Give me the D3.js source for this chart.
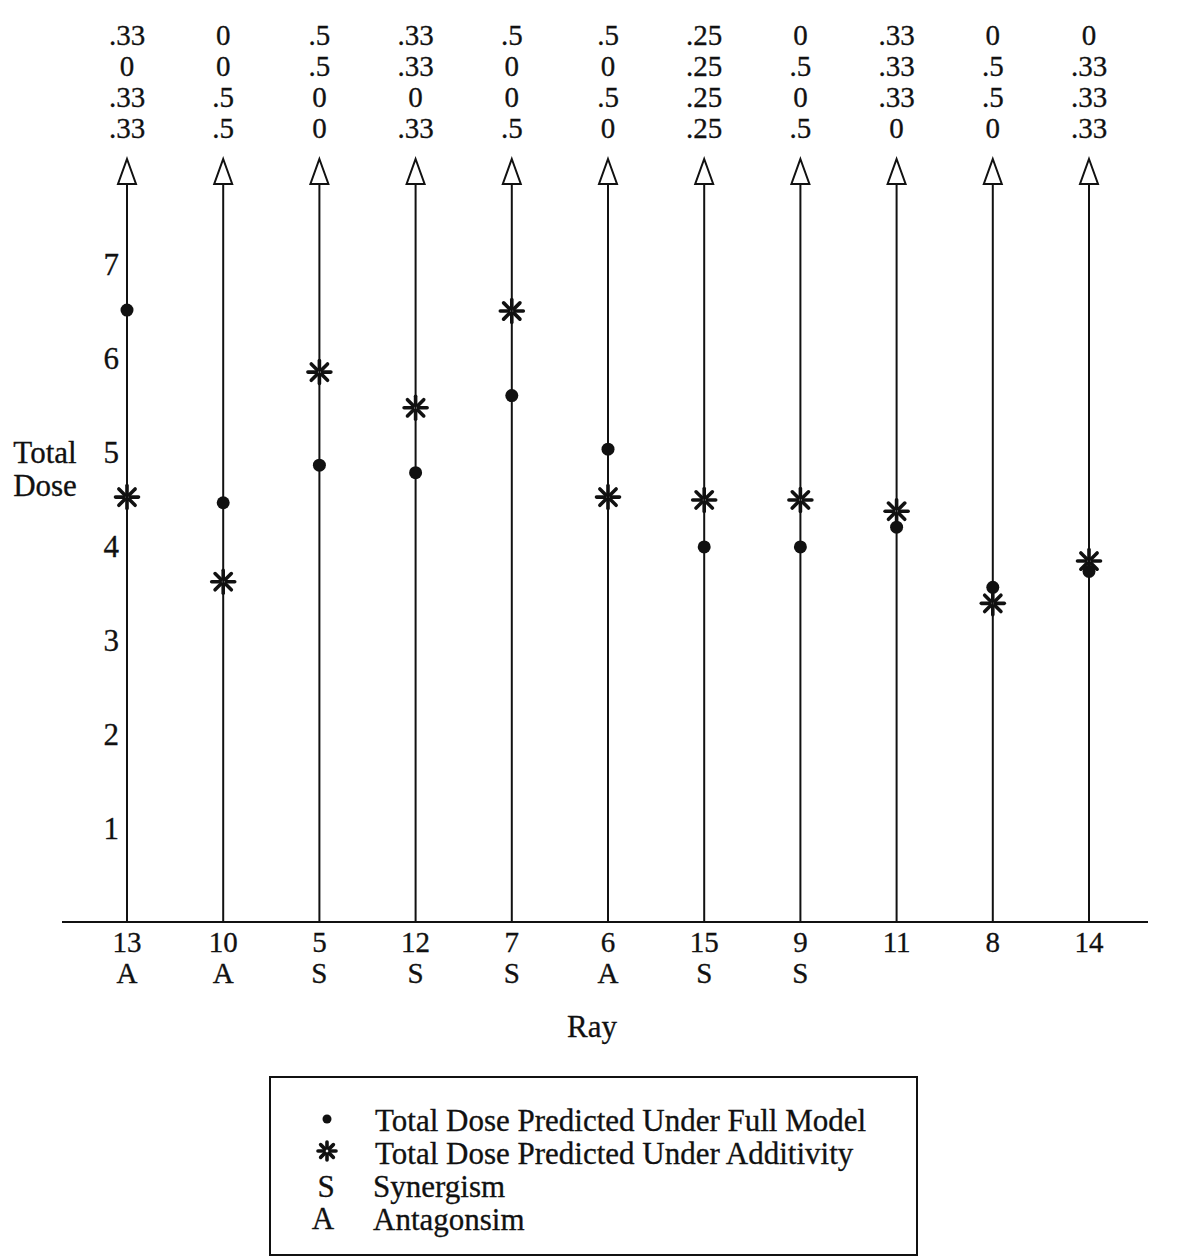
<!DOCTYPE html>
<html>
<head>
<meta charset="utf-8">
<script src="https://cdn.jsdelivr.net/npm/d3@7"></script>
<style>
  html, body { margin: 0; padding: 0; background: #fff; }
  svg text { font-family: "Liberation Serif", "Times New Roman", serif; fill: #111; stroke: #111; stroke-width: 0.3; }
</style>
</head>
<body>
<svg id="chart" width="1177" height="1260"></svg>
<script>
// Rays, in plotted order, and their classification
const rays = ["13", "10", "5", "12", "7", "6", "15", "9", "11", "8", "14"];
const effect = ["A", "A", "S", "S", "S", "A", "S", "S", "", "", ""];

// Mixing proportions of the four components along each ray (one array per component)
const comp1 = [0.33, 0, 0.5, 0.33, 0.5, 0.5, 0.25, 0, 0.33, 0, 0];
const comp2 = [0, 0, 0.5, 0.33, 0, 0, 0.25, 0.5, 0.33, 0.5, 0.33];
const comp3 = [0.33, 0.5, 0, 0, 0, 0.5, 0.25, 0, 0.33, 0.5, 0.33];
const comp4 = [0.33, 0.5, 0, 0.33, 0.5, 0, 0.25, 0.5, 0, 0, 0.33];

// Predicted total dose on each ray
const fullModel = [6.51, 4.46, 4.86, 4.78, 5.60, 5.03, 3.99, 3.99, 4.20, 3.56, 3.73];
const additivity = [4.52, 3.62, 5.85, 5.47, 6.50, 4.52, 4.49, 4.49, 4.37, 3.39, 3.84];

const yTicks = [1, 2, 3, 4, 5, 6, 7];

const svg = d3.select("#chart");
const FS = 31;      // general text size
const FS_STACK = 29; // stacked labels (proportions, ray numbers and letters)

const x = d3.scalePoint().domain(rays).range([127, 1089]);
const y = d3.scaleLinear().domain([0, 7]).range([922, 264]);

const fmt = v => v === 0 ? "0" : String(v).replace(/^0/, "");

// Ray lines with open arrowheads
const arrowTop = 159, arrowBase = 184, arrowHalf = 9;
const g = svg.append("g");
rays.forEach(r => {
  const cx = x(r);
  g.append("line")
    .attr("x1", cx).attr("x2", cx)
    .attr("y1", y(0)).attr("y2", arrowBase)
    .attr("stroke", "#111").attr("stroke-width", 2);
  g.append("path")
    .attr("d", `M${cx},${arrowTop} L${cx + arrowHalf},${arrowBase} L${cx - arrowHalf},${arrowBase} Z`)
    .attr("fill", "#fff").attr("stroke", "#111").attr("stroke-width", 2);
});

// Baseline
svg.append("line")
  .attr("x1", 62).attr("x2", 1148)
  .attr("y1", y(0)).attr("y2", y(0))
  .attr("stroke", "#111").attr("stroke-width", 2);

// Proportion labels above the arrows
[comp1, comp2, comp3, comp4].forEach((row, i) => {
  svg.append("g").selectAll("text").data(row).join("text")
    .attr("x", (d, j) => x(rays[j]))
    .attr("y", 45 + i * 31)
    .attr("text-anchor", "middle")
    .attr("font-size", FS_STACK)
    .text(d => fmt(d));
});

// Y tick labels
svg.append("g").selectAll("text").data(yTicks).join("text")
  .attr("x", 119)
  .attr("y", d => y(d) + 11)
  .attr("text-anchor", "end")
  .attr("font-size", FS)
  .text(d => d);

// Y title
svg.append("text").attr("x", 45).attr("y", 463).attr("text-anchor", "middle")
  .attr("font-size", FS).text("Total");
svg.append("text").attr("x", 45).attr("y", 496).attr("text-anchor", "middle")
  .attr("font-size", FS).text("Dose");

// Ray numbers and effect letters
svg.append("g").selectAll("text").data(rays).join("text")
  .attr("x", d => x(d)).attr("y", 952)
  .attr("text-anchor", "middle").attr("font-size", FS_STACK).text(d => d);
svg.append("g").selectAll("text").data(effect).join("text")
  .attr("x", (d, i) => x(rays[i])).attr("y", 983)
  .attr("text-anchor", "middle").attr("font-size", FS_STACK).text(d => d);

svg.append("text").attr("x", 592).attr("y", 1037).attr("text-anchor", "middle")
  .attr("font-size", FS).text("Ray");

// Marker drawing helpers
function star(sel, cx, cy, r) {
  const gg = sel.append("g").attr("transform", `translate(${cx},${cy})`);
  for (let k = 0; k < 8; k++) {
    const a = k * Math.PI / 4;
    gg.append("line")
      .attr("x1", Math.cos(a) * 3).attr("y1", Math.sin(a) * 3)
      .attr("x2", Math.cos(a) * r).attr("y2", Math.sin(a) * r)
      .attr("stroke", "#111").attr("stroke-width", 3.6).attr("stroke-linecap", "round");
  }
}

// Additivity predictions (asterisks)
additivity.forEach((v, i) => star(svg, x(rays[i]), y(v), 11.5));

// Full-model predictions (dots)
svg.append("g").selectAll("circle").data(fullModel).join("circle")
  .attr("cx", (d, i) => x(rays[i]))
  .attr("cy", d => y(d))
  .attr("r", 6.5)
  .attr("fill", "#111");

// Legend
const lg = svg.append("g");
lg.append("rect").attr("x", 270).attr("y", 1077).attr("width", 647).attr("height", 178)
  .attr("fill", "none").attr("stroke", "#111").attr("stroke-width", 2);
lg.append("circle").attr("cx", 327).attr("cy", 1119).attr("r", 4.5).attr("fill", "#111");
star(lg, 327, 1151, 9);
lg.append("text").attr("x", 326).attr("y", 1197).attr("text-anchor", "middle").attr("font-size", FS).text("S");
lg.append("text").attr("x", 323).attr("y", 1229).attr("text-anchor", "middle").attr("font-size", FS).text("A");
const legendText = [
  "Total Dose Predicted Under Full Model",
  "Total Dose Predicted Under Additivity",
  "Synergism",
  "Antagonsim"
];
legendText.forEach((t, i) => {
  lg.append("text").attr("x", 375 - (i >= 2 ? 2 : 0)).attr("y", 1131 + i * 33)
    .attr("font-size", FS).text(t);
});
</script>
</body>
</html>
